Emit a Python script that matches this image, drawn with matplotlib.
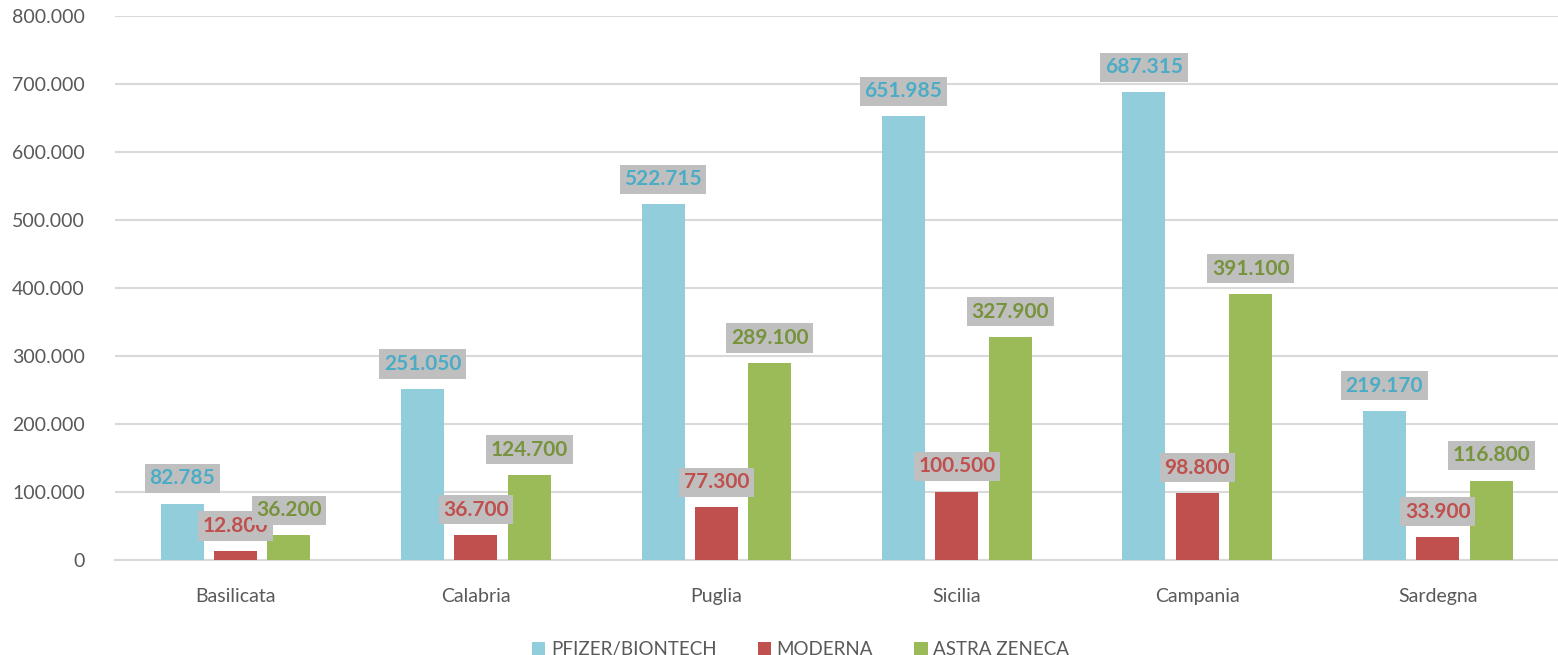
import numpy as np
import matplotlib.pyplot as plt
from matplotlib.ticker import FuncFormatter

plt.rcParams['font.family'] = ['Lato', 'DejaVu Sans']

regioni = ['Basilicata', 'Calabria', 'Puglia', 'Sicilia', 'Campania', 'Sardegna']
pfizer = [82785, 251050, 522715, 651985, 687315, 219170]
moderna = [12800, 36700, 77300, 100500, 98800, 33900]
astrazeneca = [36200, 124700, 289100, 327900, 391100, 116800]
serie = ['PFIZER/BIONTECH', 'MODERNA', 'ASTRA ZENECA']

colori = ['#92CDDC', '#C0504D', '#9BBB59']
colori_label = ['#4BACC6', '#C0504D', '#77933C']


def punti(v):
    return f'{int(v):,}'.replace(',', '.')


fig = plt.figure(figsize=(15.58, 6.55), dpi=100)
ax = fig.add_axes([0.074, 0.145, 0.926, 0.831])

x = np.arange(len(regioni))
w = 0.179
passo = 0.222
for i, (vals, nome) in enumerate(zip([pfizer, moderna, astrazeneca], serie)):
    pos = x + (i - 1) * passo
    ax.bar(pos, vals, width=w, color=colori[i], label=nome, zorder=3)
    for xp, v in zip(pos, vals):
        ax.annotate(punti(v), (xp, v), xytext=(0, 11), textcoords='offset points',
                    ha='center', va='bottom', fontsize=15, fontweight='bold',
                    color=colori_label[i], zorder=5,
                    bbox=dict(boxstyle='square,pad=0.22', fc='#BFBFBF', ec='none'))

ax.set_xlim(-0.5, len(regioni) - 0.5)
ax.set_ylim(0, 800000)
ax.set_yticks(np.arange(0, 800001, 100000))
ax.yaxis.set_major_formatter(FuncFormatter(lambda v, p: punti(v)))
ax.set_xticks(x)
ax.set_xticklabels(regioni)
ax.grid(axis='y', color='#D9D9D9', linewidth=1.5, zorder=0)
for s in ['top', 'right', 'left']:
    ax.spines[s].set_visible(False)
ax.spines['bottom'].set_color('#D9D9D9')
ax.spines['bottom'].set_linewidth(1.5)
ax.tick_params(length=0, labelsize=14, labelcolor='#595959')
ax.tick_params(axis='x', pad=20)
ax.tick_params(axis='y', pad=22)

fig.legend(loc='lower center', ncol=3, frameon=False, fontsize=13.5,
           bbox_to_anchor=(0.514, -0.03), handlelength=0.7, handleheight=0.7,
           columnspacing=2.2, handletextpad=0.3, labelcolor='#595959')

fig.savefig('out.png', dpi=100)
